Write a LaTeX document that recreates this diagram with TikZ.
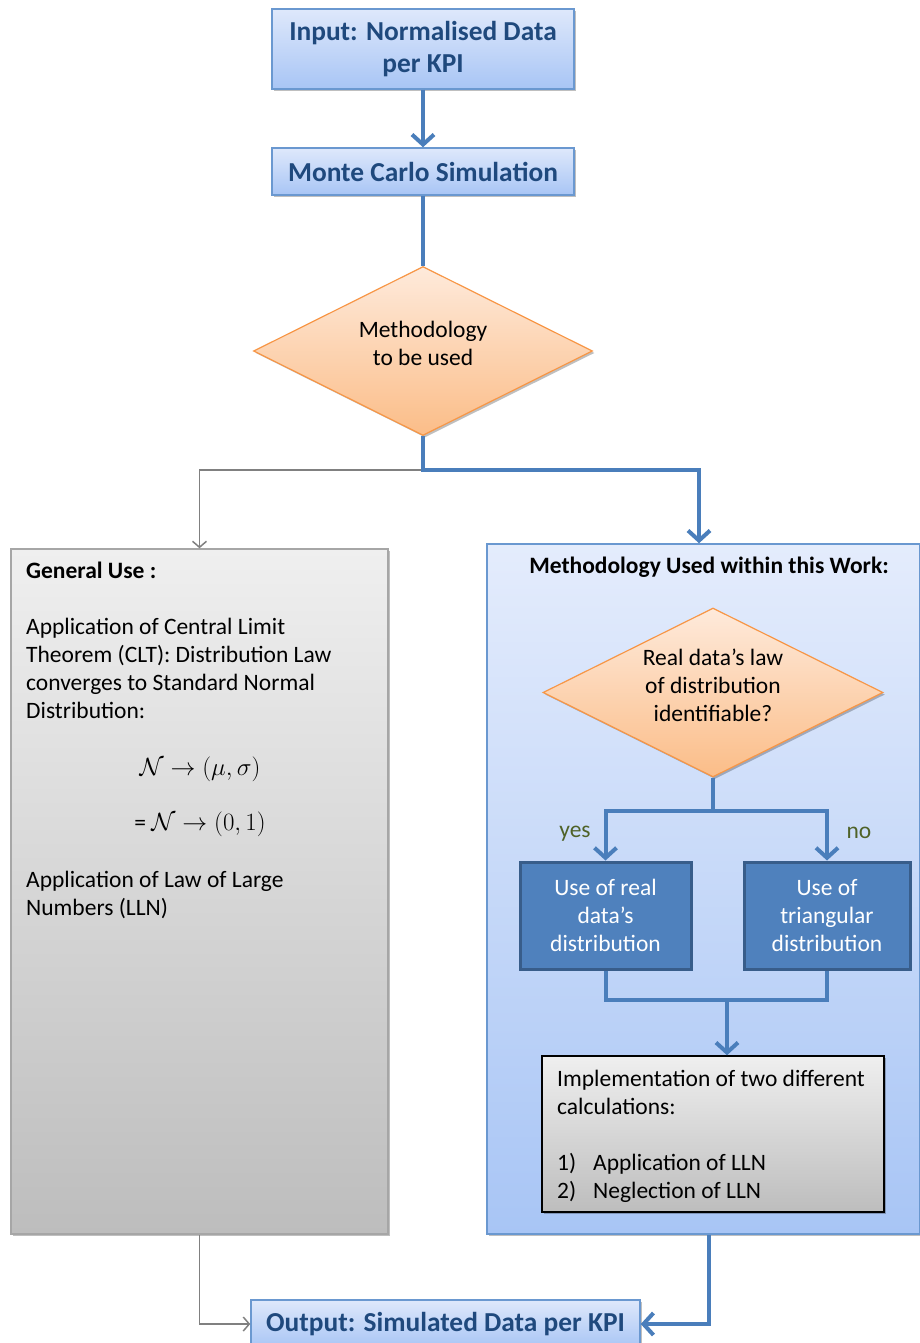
\documentclass[tikz,border=0pt]{standalone}
\usepackage{fontspec}
\setmainfont{Carlito}
\usetikzlibrary{arrows.meta,shapes.geometric,shadows}
\definecolor{titleblue}{HTML}{1F497D}
\definecolor{connblue}{HTML}{4A7EBB}
\definecolor{boxborder}{HTML}{6A98D0}
\definecolor{lightblueA}{HTML}{DEE8FB}
\definecolor{lightblueB}{HTML}{A8C5F5}
\definecolor{contA}{HTML}{E4ECFC}
\definecolor{grayA}{HTML}{EFEFEF}
\definecolor{grayB}{HTML}{BDBDBD}
\definecolor{grayborder}{HTML}{A6A6A6}
\definecolor{peachA}{HTML}{FEEADB}
\definecolor{peachB}{HTML}{FBBD88}
\definecolor{orangeborder}{HTML}{F79646}
\definecolor{darkfill}{HTML}{4F81BD}
\definecolor{darkborder}{HTML}{385D8A}
\definecolor{yesgreen}{HTML}{4F6228}
\definecolor{conngray}{HTML}{808080}
\newcommand{\myBodyFont}{\fontsize{23.5}{28}\selectfont}
\newcommand{\myTitleFont}{\fontsize{27.4}{32}\selectfont\bfseries}
\tikzset{
  softshadow/.style={drop shadow={opacity=0.25,shadow xshift=2pt,shadow yshift=-2pt,fill=black}},
  titlebox/.style={rectangle, draw=boxborder, line width=1.5pt, top color=lightblueA, bottom color=lightblueB, text=titleblue, font=\myTitleFont, align=center, inner sep=0pt, softshadow},
  decision/.style={diamond, aspect=2, draw=orangeborder, line width=1.2pt, top color=peachA, bottom color=peachB, inner sep=0pt, softshadow},
  container/.style={rectangle, line width=1.5pt, inner sep=0pt, softshadow},
  darkbox/.style={rectangle, draw=darkborder, fill=darkfill, line width=3pt, text=white, font=\myBodyFont, align=center, inner sep=0pt},
  bluearrow/.style={draw=connblue, line width=4pt, -{Straight Barb[length=10pt,width=22pt]}},
  blueline/.style={draw=connblue, line width=4pt},
  grayarrow/.style={draw=conngray, line width=1.5pt, -{Straight Barb[length=6pt,width=14pt]}},
  bodytext/.style={font=\myBodyFont, align=left, inner sep=0pt},
  centertext/.style={font=\myBodyFont, align=center, inner sep=0pt},
}
\begin{document}
\begin{tikzpicture}[x=1pt,y=-1pt]
\useasboundingbox (0,0) rectangle (920,1343);

% top chain
\node[titlebox, minimum width=302pt, minimum height=80pt] (in) at (423,49) {Input: Normalised Data\\per KPI};
\node[titlebox, minimum width=302pt, minimum height=47pt] (mc) at (423,171.5) {Monte Carlo Simulation};
\node[decision, minimum width=339pt, minimum height=169pt] (d1) at (423,351) {};
\node[centertext, anchor=base] (d1txt) at (423,365) {Methodology\\to be used};

% containers
\node[container, draw=grayborder, top color=grayA, bottom color=grayB, minimum width=377pt, minimum height=685pt] (lb) at (199.5,891.5) {};
\node[container, draw=boxborder, top color=contA, bottom color=lightblueB, minimum width=433pt, minimum height=690pt] (rb) at (703.5,889) {};

% left content
\node[bodytext, font=\myBodyFont\bfseries, anchor=base west] (gu) at (26,578) {General Use :};
\node[bodytext, anchor=base west] (clt) at (26,718) {Application of Central Limit\\Theorem (CLT): Distribution Law\\converges to Standard Normal\\Distribution:};
\node[font=\myBodyFont, anchor=base] (m1) at (200,775) {$\mathcal{N}\rightarrow(\mu,\sigma)$};
\node[font=\myBodyFont, anchor=base] (m2) at (200,830) {= $\mathcal{N}\rightarrow(0,1)$};
\node[bodytext, anchor=base west] (lln) at (26,915) {Application of Law of Large\\Numbers (LLN)};

% right content
\node[font=\myBodyFont\bfseries, anchor=base] (rt) at (709,573) {Methodology Used within this Work:};
\node[decision, minimum width=340pt, minimum height=169pt] (d2) at (713,692.5) {};
\node[centertext, anchor=base] (d2txt) at (713,721) {Real data’s law\\of distribution\\identifiable?};
\node[darkbox, minimum width=171pt, minimum height=107pt] (yes) at (605.5,915.5) {Use of real\\data’s\\distribution};
\node[darkbox, minimum width=166pt, minimum height=107pt] (no) at (827,915.5) {Use of\\triangular\\distribution};
\node[font=\myBodyFont, text=yesgreen] (ylab) at (575,834) {yes};
\node[font=\myBodyFont, text=yesgreen] (nlab) at (859,833) {no};
\node[rectangle, draw=black, line width=1.5pt, top color=grayA, bottom color=grayB, minimum width=342pt, minimum height=156pt, softshadow] (impl) at (713,1134) {};
\node[bodytext, anchor=base west] (impltxt) at (557,1198) {Implementation of two different\\calculations:\\[28pt]\makebox[36pt][l]{1)}Application of LLN\\\makebox[36pt][l]{2)}Neglection of LLN};

% output
\node[titlebox, minimum width=389pt, minimum height=48pt] (out) at (445.5,1324) {Output: Simulated Data per KPI};

% connectors
\draw[bluearrow] (in) -- (mc);
\draw[blueline] (mc) -- (d1);
\draw[grayarrow] (d1.south) -- ++(0,34) -| (lb.north);
\draw[bluearrow] (d1.south) -- ++(0,34) -| ([xshift=-4.5pt]rb.north);
\draw[bluearrow] (d2.south) -- ++(0,33) -| (yes.north);
\draw[bluearrow] (d2.south) -- ++(0,33) -| (no.north);
\coordinate (join) at (727,1000);
\draw[blueline] (yes.south) |- (join) -| (no.south);
\draw[bluearrow] (join) -- (join |- impl.north);
\draw[bluearrow] ([xshift=5.5pt]rb.south) |- (out.east);
\draw[grayarrow] (lb.south) |- (out.west);
\end{tikzpicture}
\end{document}
